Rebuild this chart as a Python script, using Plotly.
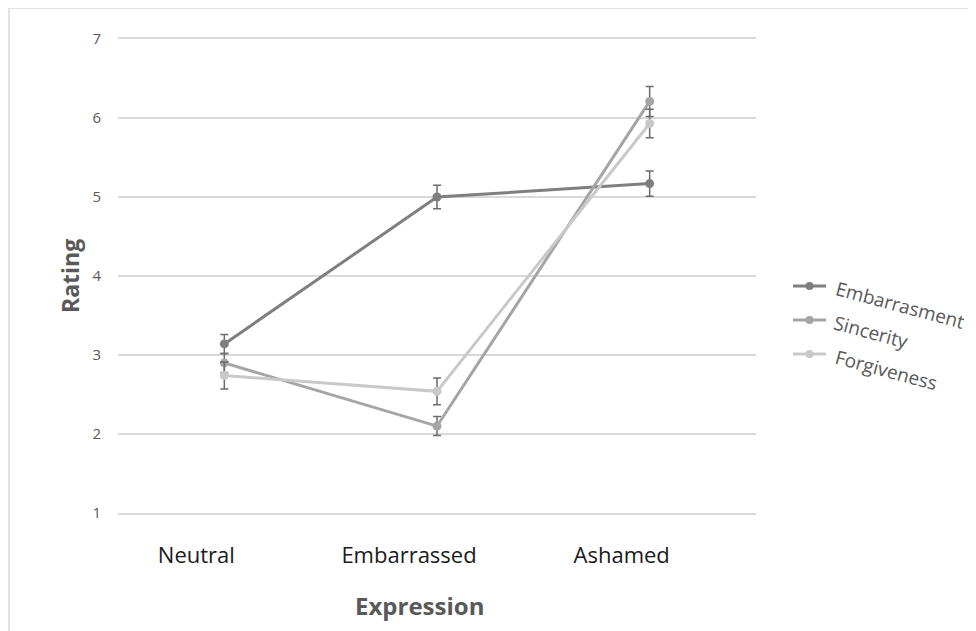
import plotly.graph_objects as go

categories = ["Neutral", "Embarrassed", "Ashamed"]
series_names = ["Embarrasment", "Sincerity", "Forgiveness"]
embarrassment = [3.14, 5.00, 5.17]
embarrassment_err = [0.12, 0.15, 0.16]
sincerity = [2.90, 2.10, 6.21]
sincerity_err = [0.12, 0.12, 0.19]
forgiveness = [2.74, 2.54, 5.93]
forgiveness_err = [0.17, 0.17, 0.18]
y_ticks = [1, 2, 3, 4, 5, 6, 7]

colors = ["#7f7f7f", "#a5a5a5", "#c9c9c9"]
err_color = "#6b6b6b"
FONT = "Open Sans"

# page has an 8px body margin; coordinates below are screenshot pixels
PX0, PX1 = 118, 756   # plot area left/right in screenshot
PY0, PY1 = 39, 513    # plot area top/bottom in screenshot


def px(X):
    return (X - PX0) / (PX1 - PX0)


def py(Y):
    return 1 - (Y - PY0) / (PY1 - PY0)


fig = go.Figure()
x = list(range(len(categories)))
for name, vals, errs, col in zip(series_names,
                                 [embarrassment, sincerity, forgiveness],
                                 [embarrassment_err, sincerity_err, forgiveness_err],
                                 colors):
    fig.add_trace(go.Scatter(
        x=x, y=vals, name=name, mode="lines+markers",
        line=dict(color=col, width=3),
        marker=dict(color=col, size=9),
        error_y=dict(type="data", array=errs, visible=True,
                     color=err_color, thickness=1.5, width=4),
        showlegend=False,
    ))

fig.update_layout(
    width=976, height=631,
    margin=dict(l=PX0 - 8, r=976 - (PX1 - 8), t=PY0 - 8, b=631 - (PY1 - 8)),
    paper_bgcolor="white", plot_bgcolor="white",
    font=dict(family=FONT),
    xaxis=dict(range=[-0.5, 2.5], tickvals=x, ticktext=categories,
               showgrid=False, zeroline=False,
               showline=True, mirror=True, linecolor="#d9d9d9", linewidth=1.5,
               tickfont=dict(size=22, color="#1a1a1a"),
               ticks="", ticklabelstandoff=22, ticklabelshift=-28),
    yaxis=dict(range=[1, 7], tickvals=y_ticks, showgrid=True,
               gridcolor="#d9d9d9", gridwidth=1.5, zeroline=False,
               showline=False, ticks="", ticklabelstandoff=16,
               tickfont=dict(size=15, color="#595959")),
)

# axis titles
fig.add_annotation(text="<b>Rating</b>", xref="paper", yref="paper",
                   x=px(70), y=py(276), xanchor="center", yanchor="middle",
                   textangle=-90, showarrow=False,
                   font=dict(size=23, color="#595959", family=FONT))
fig.add_annotation(text="<b>Expression</b>", xref="paper", yref="paper",
                   x=px(419), y=py(605), xanchor="center", yanchor="middle",
                   showarrow=False,
                   font=dict(size=24, color="#595959", family=FONT))

# legend (rotated text as in the original)
leg_y = [286, 320, 354]
leg_text_center = [(900, 305), (871, 332), (886, 370)]
for name, col, yy, (cx, cy) in zip(series_names, colors, leg_y, leg_text_center):
    yp = py(yy)
    xs, xe = px(793), px(826)
    fig.add_shape(type="line", xref="paper", yref="paper",
                  x0=xs, x1=xe, y0=yp, y1=yp,
                  line=dict(color=col, width=3))
    fig.add_shape(type="circle", xref="paper", yref="paper",
                  xsizemode="pixel", ysizemode="pixel",
                  xanchor=(xs + xe) / 2, yanchor=yp,
                  x0=-4, x1=4, y0=-4, y1=4,
                  fillcolor=col, line=dict(color=col, width=0))
    fig.add_annotation(text=name, xref="paper", yref="paper",
                       x=px(cx), y=py(cy), xanchor="center", yanchor="middle",
                       textangle=15, showarrow=False,
                       font=dict(size=19, color="#595959", family=FONT))

# chart border
fig.add_shape(type="rect", xref="paper", yref="paper",
              x0=px(9), x1=px(1000), y0=py(660), y1=py(8),
              line=dict(color="#d9d9d9", width=1.5), layer="below")

fig.write_html("out.html")
